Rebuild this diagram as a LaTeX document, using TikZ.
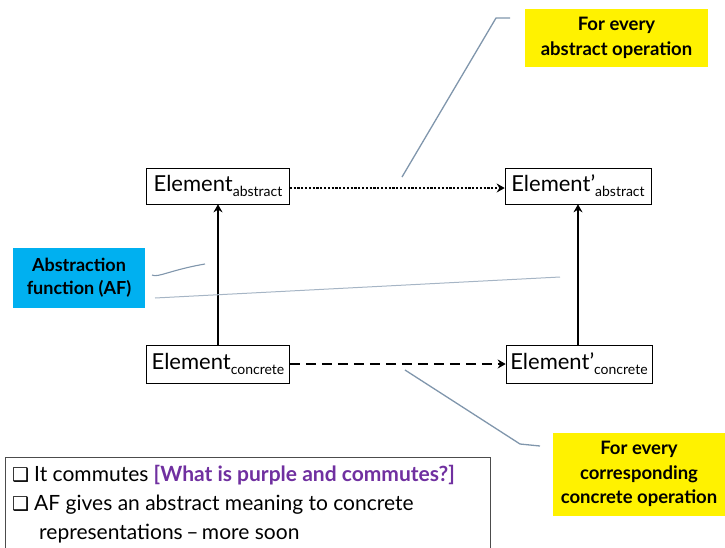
\documentclass[tikz,border=0pt]{standalone}
\usepackage{fontspec}
\setmainfont{Lato}
\newfontfamily\symfont{DejaVu Sans}
\usetikzlibrary{arrows.meta}
\definecolor{calloutc}{RGB}{128,150,172}
\definecolor{afblue}{RGB}{0,176,240}
\definecolor{purp}{RGB}{112,48,160}
\newcommand{\subtxt}[1]{\raisebox{-0.45ex}{\fontsize{14}{14}\selectfont #1}}
\newcommand{\cbox}{{\symfont\fontsize{19}{19}\selectfont ❑}}
\tikzset{
  elem/.style={draw=black, line width=0.6pt, fill=white, minimum width=143pt, minimum height=36pt, inner sep=2pt, font=\fontsize{22}{24}\selectfont},
  note/.style={fill=yellow, align=center, font=\fontsize{18.5}{24.5}\selectfont\bfseries, inner sep=2pt},
  afnote/.style={fill=afblue, align=center, font=\fontsize{18}{23}\selectfont\bfseries, inner sep=2pt},
  callout/.style={draw=calloutc, line width=1.3pt},
  conn/.style={line width=2pt, -{Stealth[length=8pt,width=9pt]}}
}
\begin{document}
\begin{tikzpicture}[x=1pt,y=-1pt]
\useasboundingbox (0,0) rectangle (725,547);
% element boxes
\node[elem] (ea) at (218,186) {Element\subtxt{abstract}};
\node[elem, minimum width=146pt] (eap) at (578,186) {Element’\subtxt{abstract}};
\node[elem, minimum height=38pt] (ec) at (218,364) {Element\subtxt{concrete}};
\node[elem, minimum width=146pt, minimum height=38pt] (ecp) at (579,364) {Element’\subtxt{concrete}};
% arrows
\draw[conn] (ec.north -| ea.south) -- (ea.south);
\draw[conn] (ecp.north -| eap.south) -- (eap.south);
\draw[conn, line width=2.6pt, dash pattern=on 2.2pt off 1.6pt] ([yshift=-2pt]ea.east) -- ([yshift=-2pt]eap.west);
\draw[conn, dash pattern=on 10pt off 6pt] (ec.east) -- (ecp.west);
% yellow notes
\node[note, minimum width=183pt, minimum height=58pt] (n1) at (616.5,38) {For every\\abstract operation};
\node[note, minimum width=172pt, minimum height=83pt] (n2) at (639,474) {For every\\corresponding\\concrete operation};
\node[afnote, minimum width=132pt, minimum height=60pt] (af) at (79,278) {Abstraction\\function (AF)};
% callouts
\coordinate (c1a) at (402,177);
\coordinate (c1b) at (496,18);
\coordinate (c1c) at (510,18);
\draw[callout] (c1a) -- (c1b) -- (c1c);
\coordinate (c2a) at (405,370);
\coordinate (c2b) at (520,444);
\coordinate (c2c) at (540,446);
\draw[callout] (c2a) -- (c2b) -- (c2c);
\coordinate (c3a) at (152,275);
\coordinate (c3b) at (205,264);
\draw[callout, line width=1.1pt] (c3a) .. controls (158,278) and (170,270) .. (c3b);
\coordinate (c4a) at (155,298);
\coordinate (c4b) at (560,277);
\draw[callout, draw=calloutc!70, line width=1pt] (c4a) -- (c4b);
% bottom text box
\draw[draw=black!70, line width=0.8pt] (5,457) -- (490,457) -- (490,550) (5,550) -- (5,457);
\node[anchor=north west, inner sep=0pt, align=left, font=\fontsize{21}{29}\selectfont] (txt) at (12,465)
{\cbox\hspace{5pt}It commutes {\color{purp}\bfseries [What is purple and commutes?]}\\
 \cbox\hspace{5pt}AF gives an abstract meaning to concrete\\
 \hspace*{27pt}representations\,–\,more soon};
\end{tikzpicture}
\end{document}
